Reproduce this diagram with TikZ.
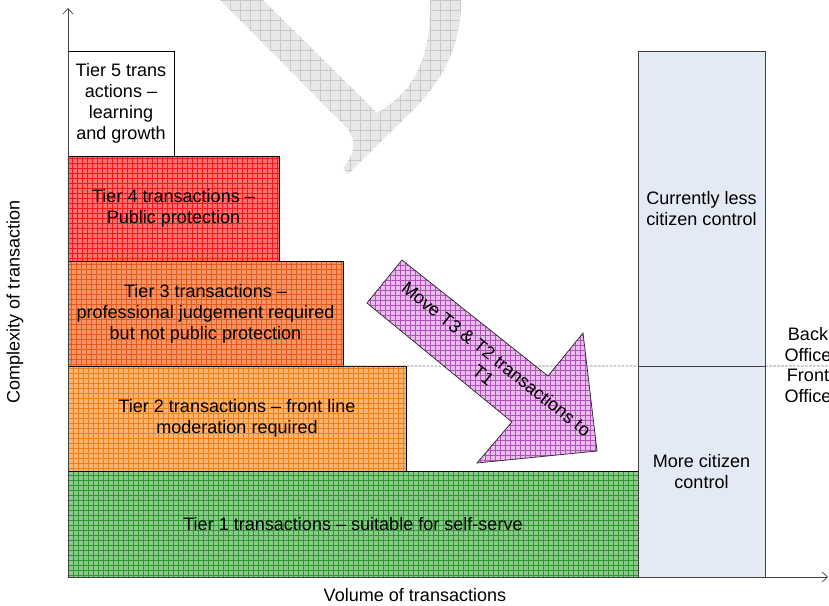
\documentclass[tikz,border=0pt]{standalone}
\usepackage{fontspec}
\setmainfont{Liberation Sans}
\usetikzlibrary{arrows.meta}
\definecolor{tfourfill}{HTML}{FF7070}
\definecolor{tfourgrid}{HTML}{F01818}
\definecolor{tthreefill}{HTML}{F59464}
\definecolor{tthreegrid}{HTML}{E65A1C}
\definecolor{ttwofill}{HTML}{FBB472}
\definecolor{ttwogrid}{HTML}{EF8014}
\definecolor{tonefill}{HTML}{8CC98C}
\definecolor{tonegrid}{HTML}{2E9A2E}
\definecolor{mvfill}{HTML}{EBBDEE}
\definecolor{mvgrid}{HTML}{B152BA}
\definecolor{wmfill}{HTML}{E8E8E8}
\definecolor{wmgrid}{HTML}{C9C9C9}
\definecolor{colfill}{HTML}{E4EAF5}
\definecolor{axisgray}{HTML}{404040}
\tikzset{
  gridded/.style 2 args={path picture={
    \draw[#1, line width=0.3pt] ([xshift=-1cm,yshift=-1cm]path picture bounding box.south west)
      grid[step=#2] ([xshift=1cm,yshift=1cm]path picture bounding box.north east);}},
  tierbox/.style={draw=black, line width=0.6pt, rectangle, inner sep=0pt, outer sep=0pt, align=center},
  colbox/.style={draw=axisgray, line width=0.6pt, fill=colfill, rectangle, inner sep=0pt, outer sep=0pt, align=center, minimum width=3.81cm},
  axisline/.style={draw=axisgray, line width=0.6pt, -{Straight Barb[length=1.6mm, width=3mm]}},
  lbl/.style={inner sep=0pt, align=center}
}
\begin{document}
\begin{tikzpicture}[x=0.03cm, y=-0.03cm, font=\fontsize{15.4}{17.9}\selectfont]
\useasboundingbox (0,0) rectangle (829,605);
% watermark fragment
\path[fill=wmfill, gridded={wmgrid}{0.3cm}]
  (220,0) -- (347,128) .. controls (356,139) and (356,153) .. (343,168) -- (348,174)
  -- (405,118) .. controls (440,85) and (461,50) .. (461,0) -- (430,0)
  .. controls (431,50) and (420,88) .. (377,113) -- (263,0) -- cycle;
% tiers
\node[tierbox, fill=tonefill, gridded={tonegrid}{0.15cm}, minimum width=17.1cm, minimum height=3.18cm] (t1) at (353,524) {Tier 1 transactions -- suitable for self-serve};
\node[tierbox, fill=ttwofill, gridded={ttwogrid}{0.15cm}, minimum width=10.14cm, minimum height=3.15cm] (t2) at (237,418.5) {Tier 2 transactions -- front line\\moderation required};
\node[tierbox, fill=tthreefill, gridded={tthreegrid}{0.15cm}, minimum width=8.25cm, minimum height=3.15cm] (t3) at (205.5,313.5) {Tier 3 transactions --\\professional judgement required\\but not public protection};
\node[tierbox, fill=tfourfill, gridded={tfourgrid}{0.15cm}, minimum width=6.33cm, minimum height=3.15cm] (t4) at (173.5,208.5) {Tier 4 transactions --\\Public protection};
\node[tierbox, fill=white, minimum width=3.18cm, minimum height=3.15cm] (t5) at (121,103.5) {Tier 5 trans\\actions --\\learning\\and growth};
% back/front divider
\coordinate (divend) at (829,366);
\draw[draw=black!55, line width=0.6pt, dash pattern=on 2.2pt off 1.2pt] (t3.south east) -- (divend);
% move arrow
\draw[fill=mvfill, gridded={mvgrid}{0.15cm}, draw=black!85, line width=0.6pt]
  (402,260) -- (548,376) -- (583,333) -- (597,451) -- (477,463) -- (512,422) -- (367,303) -- cycle;
\node[lbl, rotate=-38.5] (mv) at (490,367) {Move T3 \& T2 transactions to\\T1};
% right column
\node[colbox, minimum height=9.45cm] (back) at (701.5,208.5) {Currently less\\citizen control};
\node[colbox, minimum height=6.33cm] (front) at (701.5,471.5) {More citizen\\control};
\node[lbl, anchor=south] (bo) at (808,362) {Back\\Office};
\node[lbl, anchor=north] (fo) at (808,369) {Front\\Office};
% axes
\coordinate (origin) at (68,577);
\coordinate (ytop) at (68,8);
\coordinate (xend) at (828,577);
\draw[axisline] (origin) -- (ytop);
\draw[axisline] (origin) -- (xend);
\node[lbl, rotate=90] (ylab) at (15,302) {Complexity of transaction};
\node[lbl] (xlab) at (415,595.5) {Volume of transactions};
\end{tikzpicture}
\end{document}
